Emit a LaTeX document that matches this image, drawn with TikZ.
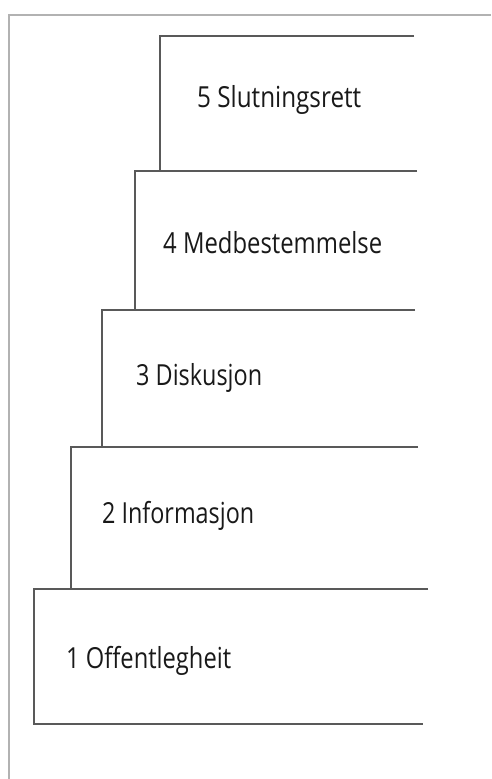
\documentclass[tikz,border=0pt]{standalone}
\usepackage{fontspec}
\setmainfont{Open Sans}
\usepackage{graphicx}
\begin{document}
\begin{tikzpicture}[x=1pt,y=-1pt,
  stepline/.style={draw=black!65, line width=1.1pt},
  frameline/.style={draw=black!30, line width=1.2pt},
  lbl/.style={anchor=base west, inner sep=0pt, font=\fontsize{29}{33}\selectfont, text=black!90}]
\useasboundingbox (0,0) rectangle (491,779);
\fill[white] (0,0) rectangle (491,779);
% frame
\draw[frameline] (9,779) -- (9,15) -- (491,15);
% step 5
\draw[stepline] (414,36) -- (160,36) -- (160,171);
% step 4
\draw[stepline] (417,171) -- (135,171) -- (135,310);
% step 3
\draw[stepline] (415,310) -- (102,310) -- (102,447);
% step 2
\draw[stepline] (418,447) -- (71,447) -- (71,589);
% step 1
\draw[stepline] (428,589) -- (34,589) -- (34,724) -- (423,724);
% labels
\node[lbl] (s5) at (197,107) {\resizebox{164pt}{\height}{5 Slutningsrett}};
\node[lbl] (s4) at (163,253) {\resizebox{219pt}{\height}{4 Medbestemmelse}};
\node[lbl] (s3) at (136,385) {\resizebox{126pt}{\height}{3 Diskusjon}};
\node[lbl] (s2) at (102,523) {\resizebox{152pt}{\height}{2 Informasjon}};
\node[lbl] (s1) at (66,668) {\resizebox{165pt}{\height}{1 Offentlegheit}};
\end{tikzpicture}
\end{document}
